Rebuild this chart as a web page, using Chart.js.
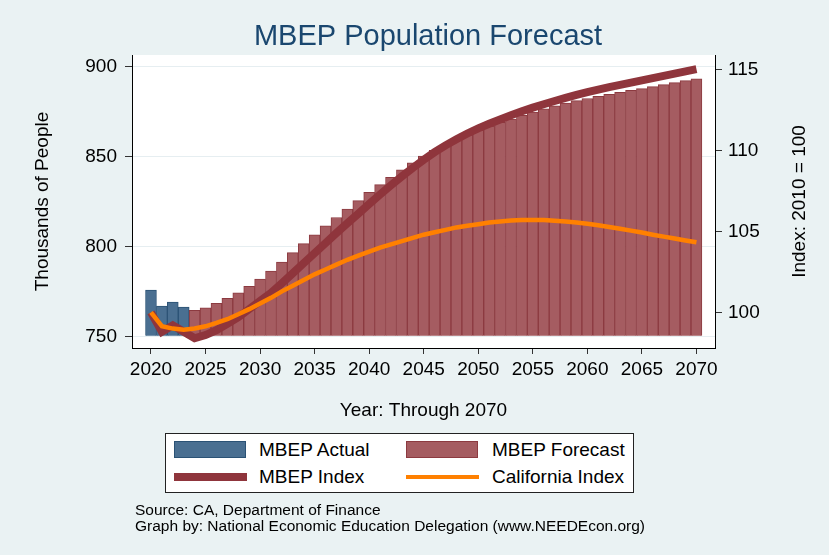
<!DOCTYPE html>
<html>
<head>
<meta charset="utf-8">
<script src="https://cdn.jsdelivr.net/npm/chart.js@4.4.1/dist/chart.umd.min.js"></script>
<style>
  html, body { margin: 0; padding: 0; background: #eaf2f3; }
  #wrap { position: relative; width: 829px; height: 555px; font-family: "Liberation Sans", Arial, sans-serif; color: #000; }
  #chart { position: absolute; left: 0; top: 0; }
  .legend { position: absolute; left: 165px; top: 433px; width: 467px; height: 58px; background: #fff; border: 1px solid #222; }
  .sw { position: absolute; width: 72px; height: 17px; box-sizing: border-box; }
  .ln { position: absolute; width: 73px; }
  .lt { position: absolute; font-size: 19px; line-height: 22px; white-space: nowrap; }
  .note { position: absolute; left: 135px; font-size: 15.5px; line-height: 16px; white-space: nowrap; }
</style>
</head>
<body>
<div id="wrap">
  <canvas id="chart" width="829" height="555"></canvas>
  <div class="legend">
    <div class="sw" style="left:8px;top:7px;background:#4a6f91;border:1px solid #2b5275;"></div>
    <div class="lt" style="left:93px;top:5px;">MBEP Actual</div>
    <div class="sw" style="left:240px;top:7px;background:#a55c61;border:1px solid #8c3a40;"></div>
    <div class="lt" style="left:326px;top:5px;">MBEP Forecast</div>
    <div class="ln" style="left:8px;top:39px;height:8px;background:#8f353c;"></div>
    <div class="lt" style="left:93px;top:32px;">MBEP Index</div>
    <div class="ln" style="left:240px;top:41px;height:4px;background:#ff8000;"></div>
    <div class="lt" style="left:326px;top:32px;">California Index</div>
  </div>
  <div class="note" style="top:502px;">Source: CA, Department of Finance</div>
  <div class="note" style="top:518px;">Graph by: National Economic Education Delegation (www.NEEDEcon.org)</div>
</div>
<script>
  'use strict';

  const FONT = '"Liberation Sans", Arial, sans-serif';

  // Population, thousands of people
  const actualYears = [2020, 2021, 2022, 2023];
  const actualPop = [775.7, 766.8, 769.0, 766.2];

  const forecastYears = [
    2024, 2025, 2026, 2027, 2028, 2029, 2030, 2031, 2032, 2033, 2034, 2035,
    2036, 2037, 2038, 2039, 2040, 2041, 2042, 2043, 2044, 2045, 2046, 2047,
    2048, 2049, 2050, 2051, 2052, 2053, 2054, 2055, 2056, 2057, 2058, 2059,
    2060, 2061, 2062, 2063, 2064, 2065, 2066, 2067, 2068, 2069, 2070,
  ];
  const forecastPop = [
    764.5, 765.9, 768.3, 771.1, 774.2, 777.8, 781.9, 786.3, 791.3, 796.6, 801.6, 806.4,
    811.5, 816.1, 820.8, 825.5, 830.1, 834.4, 838.5, 842.6, 846.5, 850.2, 853.5, 856.6,
    859.4, 862.1, 864.6, 867.0, 869.0, 870.9, 872.9, 874.8, 876.6, 878.2, 879.8, 881.1,
    882.3, 883.5, 884.6, 885.7, 886.8, 887.8, 888.9, 890.0, 891.1, 892.2, 893.3,
  ];

  // Index series, 2010 = 100
  const indexYears = [
    2020, 2021, 2022, 2023, 2024, 2025, 2026, 2027, 2028, 2029, 2030,
    2031, 2032, 2033, 2034, 2035, 2036, 2037, 2038, 2039, 2040,
    2041, 2042, 2043, 2044, 2045, 2046, 2047, 2048, 2049, 2050,
    2051, 2052, 2053, 2054, 2055, 2056, 2057, 2058, 2059, 2060,
    2061, 2062, 2063, 2064, 2065, 2066, 2067, 2068, 2069, 2070,
  ];
  const mbepIndex = [
    100.0, 98.8, 99.2, 98.8, 98.4, 98.6, 98.9, 99.3, 99.7, 100.2, 100.7,
    101.2, 101.8, 102.42, 103.04, 103.66, 104.28, 104.9, 105.5, 106.1, 106.7,
    107.28, 107.85, 108.4, 108.93, 109.43, 109.9, 110.32, 110.7, 111.05, 111.37,
    111.65, 111.92, 112.18, 112.42, 112.65, 112.86, 113.06, 113.25, 113.43, 113.6,
    113.76, 113.91, 114.05, 114.19, 114.33, 114.47, 114.61, 114.75, 114.89, 115.03,
  ];
  const caIndex = [
    100.0, 99.15, 99.0, 98.93, 99.0, 99.14, 99.35, 99.58, 99.88, 100.2, 100.55,
    100.9, 101.3, 101.65, 102.0, 102.35, 102.65, 102.95, 103.25, 103.5, 103.75,
    104.0, 104.2, 104.4, 104.6, 104.8, 104.95, 105.1, 105.25, 105.35, 105.45,
    105.55, 105.62, 105.67, 105.7, 105.71, 105.7, 105.66, 105.61, 105.55, 105.47,
    105.38, 105.28, 105.17, 105.05, 104.93, 104.8, 104.68, 104.56, 104.44, 104.33,
  ];

  const xTicks = [2020, 2025, 2030, 2035, 2040, 2045, 2050, 2055, 2060, 2065, 2070];
  const popTicks = [750, 800, 850, 900];
  const indexTicks = [100, 105, 110, 115];

  function pairs(xs, ys) {
    return xs.map((x, i) => ({ x: x, y: ys[i] }));
  }

  function fixTicks(list) {
    return (scale) => { scale.ticks = list.map((v) => ({ value: v })); };
  }

  const TICK_FONT = { family: FONT, size: 19 };
  const AXIS_LINE = { display: true, color: '#000', width: 1 };

  // white plot region on the tinted page
  const plotBg = {
    id: 'plotBg',
    beforeDraw(chart) {
      const a = chart.chartArea;
      const ctx = chart.ctx;
      ctx.save();
      ctx.fillStyle = '#fff';
      ctx.fillRect(a.left, a.top, a.right - a.left, a.bottom - a.top);
      ctx.restore();
    },
  };

  // right axis title reads bottom-to-top, which Chart.js does not do on its own
  const rightTitle = {
    id: 'rightTitle',
    afterDraw(chart) {
      const a = chart.chartArea;
      const ctx = chart.ctx;
      ctx.save();
      ctx.translate(800, (a.top + a.bottom) / 2);
      ctx.rotate(-Math.PI / 2);
      ctx.fillStyle = '#000';
      ctx.font = '19px ' + FONT;
      ctx.textAlign = 'center';
      ctx.textBaseline = 'middle';
      ctx.fillText('Index: 2010 = 100', 0, 0);
      ctx.restore();
    },
  };

  new Chart(document.getElementById('chart').getContext('2d'), {
    type: 'bar',
    data: {
      datasets: [
        {
          label: 'MBEP Index',
          type: 'line',
          data: pairs(indexYears, mbepIndex),
          yAxisID: 'y1',
          borderColor: '#8f353c',
          borderWidth: 8,
          pointRadius: 0,
          tension: 0,
          order: 2,
        },
        {
          label: 'California Index',
          type: 'line',
          data: pairs(indexYears, caIndex),
          yAxisID: 'y1',
          borderColor: '#ff8000',
          borderWidth: 4.5,
          pointRadius: 0,
          tension: 0,
          order: 1,
        },
        {
          label: 'MBEP Actual',
          data: pairs(actualYears, actualPop),
          yAxisID: 'y',
          base: 750,
          grouped: false,
          barPercentage: 1,
          categoryPercentage: 1,
          backgroundColor: '#4a6f91',
          borderColor: '#2b5275',
          borderWidth: 1,
          order: 4,
        },
        {
          label: 'MBEP Forecast',
          data: pairs(forecastYears, forecastPop),
          yAxisID: 'y',
          base: 750,
          grouped: false,
          barPercentage: 1,
          categoryPercentage: 1,
          backgroundColor: '#a55c61',
          borderColor: '#8c3a40',
          borderWidth: 1,
          order: 3,
        },
      ],
    },
    options: {
      responsive: false,
      animation: false,
      devicePixelRatio: 1,
      layout: { padding: { left: 27, right: 0, top: 0, bottom: 129 } },
      plugins: {
        legend: { display: false },
        tooltip: { enabled: false },
        title: {
          display: true,
          text: 'MBEP Population Forecast',
          color: '#1a476f',
          font: { family: FONT, size: 29, weight: 'normal' },
          padding: { top: 19.6, bottom: 0.6 },
        },
      },
      scales: {
        x: {
          type: 'linear',
          min: 2018.26,
          max: 2071.7,
          offset: false,
          afterBuildTicks: fixTicks(xTicks),
          afterFit: (s) => { s.height = 78; },
          ticks: { color: '#000', font: TICK_FONT, padding: 4, maxRotation: 0, autoSkip: false, callback: (v) => String(v) },
          grid: { drawOnChartArea: false, offset: false, tickLength: 6, tickColor: '#333' },
          border: AXIS_LINE,
          title: { display: true, text: 'Year: Through 2070', color: '#000', font: TICK_FONT, padding: { top: 4, bottom: 4 } },
        },
        y: {
          position: 'left',
          min: 743.5,
          max: 906.5,
          afterBuildTicks: fixTicks(popTicks),
          afterFit: (s) => { s.width = 105; },
          ticks: { color: '#000', font: TICK_FONT, padding: 8 },
          grid: { color: '#e6eef1', lineWidth: 1, tickLength: 7, tickColor: '#333' },
          border: AXIS_LINE,
          title: { display: true, text: 'Thousands of People', color: '#000', font: TICK_FONT, padding: { top: 4, bottom: 4 } },
        },
        y1: {
          position: 'right',
          min: 97.8,
          max: 115.9,
          afterBuildTicks: fixTicks(indexTicks),
          afterFit: (s) => { s.width = 114; },
          ticks: { color: '#000', font: TICK_FONT, padding: 6 },
          grid: { drawOnChartArea: false, tickLength: 7, tickColor: '#333' },
          border: AXIS_LINE,
        },
      },
    },
    plugins: [plotBg, rightTitle],
  });
</script>
</body>
</html>
